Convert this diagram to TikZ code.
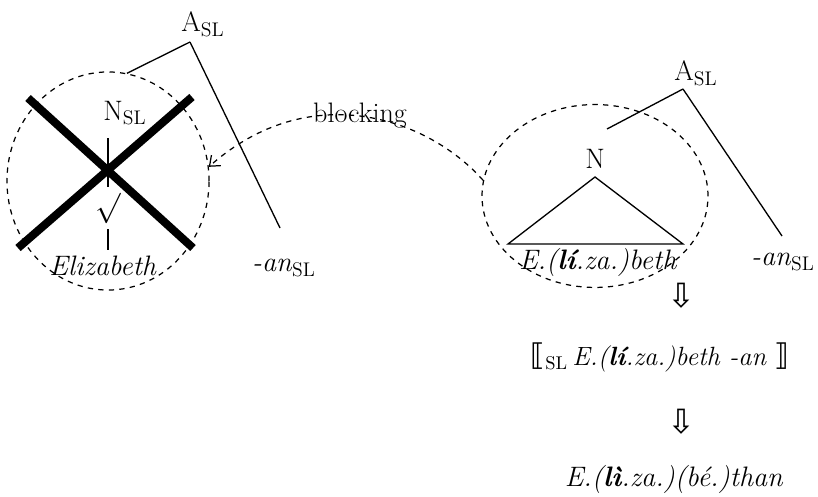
\documentclass[tikz,border=0pt]{standalone}
\usepackage{fontspec}
\newfontfamily\symfont{DejaVu Sans}
\usetikzlibrary{arrows.meta, shapes.geometric}

\begin{document}
\begin{tikzpicture}[x=0.5686pt, y=-0.5686pt, font=\fontsize{16}{19}\selectfont,
    branch/.style={line width=0.75pt},
    ring/.style={draw, dashed, ellipse, inner sep=0pt, line width=0.7pt},
    cross/.style={line width=4.6pt},
    arrowdown/.style={font=\symfont\fontsize{19}{20}\selectfont}]
  \useasboundingbox (0,0) rectangle (818,497);
  % blocked form
  \node[ring, minimum width=114.9pt, minimum height=124pt] (ringL) at (108,181) {};
  \node (aL) at (203,24) {A\textsubscript{SL}};
  \node (nL) at (125,113) {N\textsubscript{SL}};
  \node (root) at (108,208) {$\surd$};
  \node (elizL) at (103,266) {\textit{Elizabeth}};
  \node (anL) at (284,268) {\textit{-an}\textsubscript{SL}};
  \coordinate (aLtip) at (190,42);
  \draw[branch] (aLtip) -- (ringL.80);
  \draw[branch] (aLtip) -- (280,228);
  \draw[branch] (root.north |- 0,138) -- (root.north);
  \draw[branch] (root.south) -- (root.south |- elizL.north);
  \draw[cross] (28,98) -- (193,248);
  \draw[cross] (192,97) -- (18,248);
  % winning form
  \node[ring, minimum width=128.5pt, minimum height=104pt] (ringR) at (595,196) {};
  \node (aR) at (696,73) {A\textsubscript{SL}};
  \node (nR) at (595,159) {N};
  \node (elizR) at (598,262) {\textit{E.(\textbf{lí}.za.)beth}};
  \node (anR) at (783,262) {\textit{-an}\textsubscript{SL}};
  \coordinate (aRtip) at (683,89);
  \draw[branch] (aRtip) -- (607,129);
  \draw[branch] (aRtip) -- (782,236);
  \draw[branch] (595,177) -- (508,244) -- (683,244) -- cycle;
  % blocking arrow
  \node (block) at (360,116) {blocking};
  \draw[dashed, line width=0.7pt, -{Straight Barb[length=5pt, width=8pt]}]
    (ringR.172) .. controls (427,117) and (309,78) .. (ringL.8);
  % derivation
  \node[arrowdown] (down1) at (681,296) {⇩};
  \node[font=\fontsize{15}{18}\selectfont] (sl) at (660,357)
    {{\symfont\fontsize{17}{20}\selectfont ⟦}\textsubscript{SL}\,\textit{E.(\textbf{lí}.za.)beth -an} {\symfont\fontsize{17}{20}\selectfont ⟧}};
  \node[arrowdown] (down2) at (681,422) {⇩};
  \node (final) at (674,479) {\textit{E.(\textbf{lì}.za.)(bé.)than}};
\end{tikzpicture}
\end{document}
